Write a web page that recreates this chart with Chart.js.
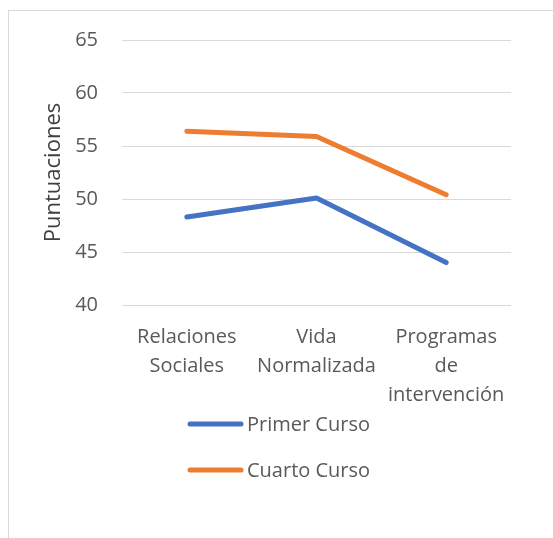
<!DOCTYPE html>
<html>
<head>
<meta charset="utf-8">
<script src="https://cdn.jsdelivr.net/npm/chart.js@4/dist/chart.umd.min.js"></script>
<style>
  html, body { margin: 0; padding: 0; background: #fff; }
  #wrap { width: 553px; height: 538px; position: relative; }
</style>
</head>
<body>
<div id="wrap"><canvas id="chart" width="553" height="538"></canvas></div>
<script>
  // categories and values
  var categories = [
    ['Relaciones', 'Sociales'],
    ['Vida', 'Normalizada'],
    ['Programas', 'de', 'intervención']
  ];
  var seriesNames = ['Primer Curso', 'Cuarto Curso'];
  var primerCurso = [48.3, 50.1, 44.0];
  var cuartoCurso = [56.4, 55.9, 50.4];
  var yTicks = [40, 45, 50, 55, 60, 65];

  var FONT = "'Open Sans', 'Noto Sans', sans-serif";
  var TEXT = '#595959';
  var COLORS = ['#4472C4', '#ED7D31'];

  // outer frame like the office chart box
  var framePlugin = {
    id: 'frame',
    beforeDraw: function (chart) {
      var ctx = chart.ctx;
      ctx.save();
      ctx.strokeStyle = '#d9d9d9';
      ctx.lineWidth = 1;
      ctx.strokeRect(8.5, 10.5, 600, 600);
      ctx.restore();
    }
  };

  // stacked legend under the axis, left aligned like the reference
  var stackedLegend = {
    id: 'stackedLegend',
    afterDraw: function (chart) {
      var ctx = chart.ctx;
      var x0 = 190, x1 = 241, tx = 247;
      var y = 424, step = 46;
      ctx.save();
      ctx.font = '20px ' + FONT;
      ctx.textBaseline = 'middle';
      ctx.textAlign = 'left';
      chart.data.datasets.forEach(function (ds, i) {
        var yy = y + i * step;
        ctx.strokeStyle = ds.borderColor;
        ctx.lineWidth = 5;
        ctx.lineCap = 'round';
        ctx.beginPath();
        ctx.moveTo(x0, yy);
        ctx.lineTo(x1, yy);
        ctx.stroke();
        ctx.fillStyle = TEXT;
        ctx.fillText(ds.label, tx, yy + 1);
      });
      ctx.restore();
    }
  };

  new Chart(document.getElementById('chart'), {
    type: 'line',
    data: {
      labels: categories,
      datasets: [
        { label: seriesNames[0], data: primerCurso, borderColor: COLORS[0], backgroundColor: COLORS[0] },
        { label: seriesNames[1], data: cuartoCurso, borderColor: COLORS[1], backgroundColor: COLORS[1] }
      ]
    },
    options: {
      responsive: false,
      animation: false,
      layout: { padding: { left: 40, top: 40, right: 42, bottom: 123 } },
      elements: {
        line: { borderWidth: 5, tension: 0, borderCapStyle: 'round', borderJoinStyle: 'round' },
        point: { radius: 0, hoverRadius: 0 }
      },
      plugins: {
        legend: { display: false },
        tooltip: { enabled: false }
      },
      scales: {
        x: {
          offset: true,
          grid: { display: false, drawTicks: false },
          border: { display: false },
          ticks: {
            color: TEXT,
            font: { family: FONT, size: 20, lineHeight: 1.45 },
            padding: 18,
            maxRotation: 0,
            autoSkip: false
          },
          afterFit: function (scale) { scale.height = 110; }
        },
        y: {
          min: yTicks[0],
          max: yTicks[yTicks.length - 1],
          afterBuildTicks: function (scale) {
            scale.ticks = yTicks.map(function (v) { return { value: v }; });
          },
          grid: { color: '#d9d9d9', lineWidth: 1, drawTicks: false },
          border: { display: false },
          ticks: {
            color: TEXT,
            font: { family: FONT, size: 20 },
            padding: 24
          },
          title: {
            display: true,
            text: 'Puntuaciones',
            color: '#404040',
            font: { family: FONT, size: 22, lineHeight: 1.1 },
            padding: { top: 2, bottom: 0 }
          },
          afterFit: function (scale) { scale.width = 82; }
        }
      }
    },
    plugins: [framePlugin, stackedLegend]
  });
</script>
</body>
</html>
